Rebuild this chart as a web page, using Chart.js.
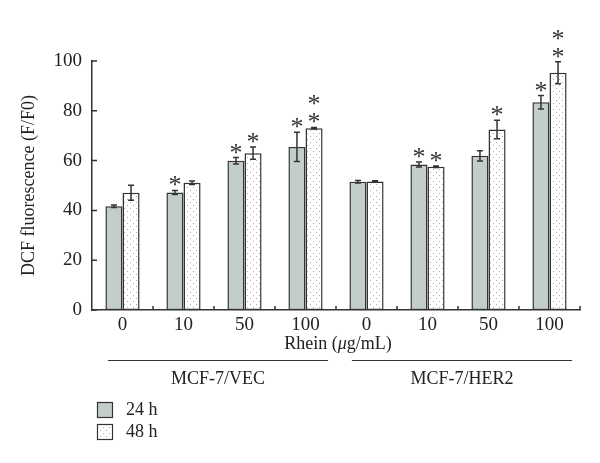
<!DOCTYPE html>
<html>
<head>
<meta charset="utf-8">
<script src="https://cdn.jsdelivr.net/npm/chart.js@4"></script>
<style>
  html, body { margin: 0; padding: 0; background: #fff; }
  #wrap { width: 600px; height: 463px; }
</style>
</head>
<body>
<div id="wrap"><canvas id="myChart" width="600" height="463"></canvas></div>
<script>
// data
const doses = ["0", "10", "50", "100", "0", "10", "50", "100"];
const h24 = [41.7, 47.2, 59.9, 65.5, 51.5, 58.4, 61.9, 83.4];
const h24Err = [0.5, 0.8, 1.3, 5.9, 0.5, 1.0, 2.1, 2.7];
const h48 = [47.1, 51.1, 63.0, 73.0, 51.6, 57.5, 72.5, 95.3];
const h48Err = [3.0, 0.7, 2.5, 0.3, 0.3, 0.3, 3.7, 4.4];
// number of asterisks over each bar
const sig24 = [0, 1, 1, 1, 0, 1, 0, 1];
const sig48 = [0, 0, 1, 2, 0, 1, 1, 2];
const yTicks = [0, 20, 40, 60, 80, 100];
const cellLines = [{ name: "MCF-7/VEC", from: 0, to: 3 }, { name: "MCF-7/HER2", from: 4, to: 7 }];

const SERIF = "'Liberation Serif', 'DejaVu Serif', serif";
const INK = "#333";
const GRAY = "#c3cdc9";

// dotted fill for the 48 h bars
function dotPattern() {
  const c = document.createElement("canvas");
  c.width = 6; c.height = 6;
  const g = c.getContext("2d");
  g.fillStyle = "#fff";
  g.fillRect(0, 0, 6, 6);
  g.fillStyle = "#a9adab";
  g.fillRect(1, 1, 1, 1);
  g.fillRect(4, 4, 1, 1);
  return g.createPattern(c, "repeat");
}
const dots = dotPattern();

const extras = {
  id: "extras",
  afterDatasetsDraw(chart) {
    const ctx = chart.ctx;
    const y = chart.scales.y;
    ctx.save();
    ctx.strokeStyle = INK;
    ctx.fillStyle = INK;
    ctx.lineWidth = 1.5;
    [[h24, h24Err, sig24], [h48, h48Err, sig48]].forEach((set, di) => {
      const meta = chart.getDatasetMeta(di);
      meta.data.forEach((bar, i) => {
        const x = bar.x;
        const top = y.getPixelForValue(set[0][i] + set[1][i]);
        const bot = y.getPixelForValue(set[0][i] - set[1][i]);
        ctx.beginPath();
        ctx.moveTo(x, top); ctx.lineTo(x, bot);
        ctx.moveTo(x - 3, top); ctx.lineTo(x + 3, top);
        ctx.moveTo(x - 3, bot); ctx.lineTo(x + 3, bot);
        ctx.stroke();
        ctx.font = "26px " + SERIF;
        ctx.textAlign = "center";
        ctx.textBaseline = "alphabetic";
        for (let k = 0; k < set[2][i]; k++) {
          ctx.fillText("*", x, top + 3 - k * 18);
        }
      });
    });
    ctx.restore();
  },
  afterDraw(chart) {
    const ctx = chart.ctx;
    const x = chart.scales.x;
    const y = chart.scales.y;
    const a = chart.chartArea;
    ctx.save();
    ctx.strokeStyle = INK;
    ctx.lineWidth = 1.5;
    // inward tick marks
    ctx.beginPath();
    yTicks.forEach(v => {
      const py = y.getPixelForValue(v);
      ctx.moveTo(a.left, py); ctx.lineTo(a.left + 5, py);
    });
    const step = (a.right - a.left) / doses.length;
    for (let i = 1; i <= doses.length; i++) {
      const px = a.left + i * step;
      ctx.moveTo(px, a.bottom); ctx.lineTo(px, a.bottom - 4);
    }
    ctx.stroke();

    // Rhein (μg/mL)
    ctx.fillStyle = "#222";
    ctx.textBaseline = "middle";
    ctx.textAlign = "left";
    const parts = [["Rhein (", ""], ["\u03bc", "italic "], ["g/mL)", ""]];
    let total = 0;
    parts.forEach(p => { ctx.font = p[1] + "18px " + SERIF; total += ctx.measureText(p[0]).width; });
    let tx = (a.left + a.right) / 2 - total / 2 + 2;
    parts.forEach(p => {
      ctx.font = p[1] + "18px " + SERIF;
      ctx.fillText(p[0], tx, 344);
      tx += ctx.measureText(p[0]).width;
    });

    // cell line brackets
    ctx.font = "18px " + SERIF;
    ctx.textAlign = "center";
    ctx.lineWidth = 1.2;
    cellLines.forEach(g => {
      const x0 = x.getPixelForValue(g.from) - step * 0.24;
      const x1 = x.getPixelForValue(g.to) + step * 0.37;
      ctx.beginPath();
      ctx.moveTo(x0, 360.5); ctx.lineTo(x1, 360.5);
      ctx.stroke();
      ctx.fillText(g.name, (x0 + x1) / 2, 379);
    });

    // legend
    const items = [["24 h", GRAY], ["48 h", dots]];
    items.forEach((it, i) => {
      const by = 402 + i * 22;
      ctx.fillStyle = it[1];
      ctx.fillRect(97, by, 15, 15);
      ctx.lineWidth = 1.2;
      ctx.strokeRect(97.5, by + 0.5, 15, 15);
      ctx.fillStyle = "#222";
      ctx.textAlign = "left";
      ctx.fillText(it[0], 126, by + 8);
    });
    ctx.restore();
  }
};

new Chart("myChart", {
  type: "bar",
  data: {
    labels: doses,
    datasets: [{
      label: "24 h",
      data: h24,
      backgroundColor: GRAY,
      borderColor: INK,
      borderWidth: 1.5,
      borderSkipped: false
    }, {
      label: "48 h",
      data: h48,
      backgroundColor: dots,
      borderColor: INK,
      borderWidth: 1.5,
      borderSkipped: false
    }]
  },
  options: {
    responsive: false,
    animation: false,
    layout: { padding: { top: 61, right: 20, bottom: 0, left: 0 } },
    datasets: { bar: { categoryPercentage: 0.56, barPercentage: 1 } },
    plugins: { legend: { display: false }, tooltip: { enabled: false } },
    scales: {
      x: {
        grid: { display: false },
        border: { color: INK, width: 1.5 },
        ticks: { color: "#222", font: { family: SERIF, size: 19 }, padding: -4, maxRotation: 0 },
        afterFit(s) { s.height = 153; }
      },
      y: {
        min: 0, max: 100,
        afterBuildTicks(s) { s.ticks = yTicks.map(v => ({ value: v })); },
        grid: { display: false },
        border: { color: INK, width: 1.5 },
        ticks: { color: "#222", font: { family: SERIF, size: 19 }, padding: 2 },
        title: { display: true, text: "DCF fluorescence (F/F0)", color: "#222", font: { family: SERIF, size: 18 }, padding: { top: 18, bottom: 0 } },
        afterFit(s) { s.width = 92; }
      }
    }
  },
  plugins: [extras]
});
</script>
</body>
</html>
